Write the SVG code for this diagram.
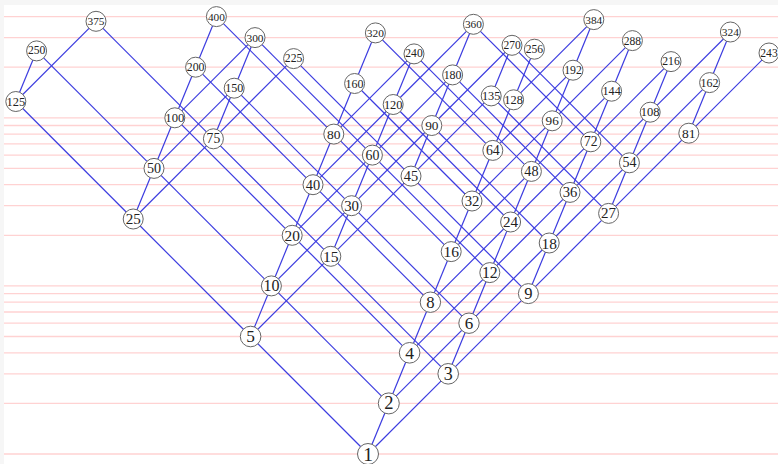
<svg xmlns="http://www.w3.org/2000/svg" width="778" height="464" viewBox="0 0 778 464">
<style>
.grid line{stroke:#ffd2d2;stroke-width:1.3}
.edges line{stroke:#3c3ce0;stroke-width:1.2}
.node circle{fill:#fff;stroke:#666;stroke-width:1}
.node text{font-family:"Liberation Serif","DejaVu Serif",serif;fill:#222;text-anchor:middle;dominant-baseline:central}
</style>
<rect x="0" y="0" width="778" height="464" fill="#f6f6f6"/>
<rect x="4" y="5" width="774" height="459" fill="#fff"/>
<g class="grid">
<line x1="4" y1="454" x2="778" y2="454"/>
<line x1="4" y1="403.4" x2="778" y2="403.4"/>
<line x1="4" y1="373.8" x2="778" y2="373.8"/>
<line x1="4" y1="352.8" x2="778" y2="352.8"/>
<line x1="4" y1="336.5" x2="778" y2="336.5"/>
<line x1="4" y1="323.2" x2="778" y2="323.2"/>
<line x1="4" y1="312" x2="778" y2="312"/>
<line x1="4" y1="302.2" x2="778" y2="302.2"/>
<line x1="4" y1="293.6" x2="778" y2="293.6"/>
<line x1="4" y1="285.9" x2="778" y2="285.9"/>
<line x1="4" y1="235.3" x2="778" y2="235.3"/>
<line x1="4" y1="205.7" x2="778" y2="205.7"/>
<line x1="4" y1="184.7" x2="778" y2="184.7"/>
<line x1="4" y1="168.4" x2="778" y2="168.4"/>
<line x1="4" y1="155.1" x2="778" y2="155.1"/>
<line x1="4" y1="143.9" x2="778" y2="143.9"/>
<line x1="4" y1="134.1" x2="778" y2="134.1"/>
<line x1="4" y1="125.5" x2="778" y2="125.5"/>
<line x1="4" y1="117.8" x2="778" y2="117.8"/>
<line x1="4" y1="67.2" x2="778" y2="67.2"/>
<line x1="4" y1="37.6" x2="778" y2="37.6"/>
<line x1="4" y1="16.6" x2="778" y2="16.6"/>
</g>
<g class="edges">
<line x1="368" y1="454" x2="388.8" y2="403.4"/>
<line x1="368" y1="454" x2="448.2" y2="373.8"/>
<line x1="368" y1="454" x2="250.6" y2="336.5"/>
<line x1="388.8" y1="403.4" x2="409.6" y2="352.8"/>
<line x1="388.8" y1="403.4" x2="469" y2="323.2"/>
<line x1="388.8" y1="403.4" x2="271.4" y2="285.9"/>
<line x1="448.2" y1="373.8" x2="469" y2="323.2"/>
<line x1="448.2" y1="373.8" x2="528.4" y2="293.6"/>
<line x1="448.2" y1="373.8" x2="330.8" y2="256.3"/>
<line x1="409.6" y1="352.8" x2="430.4" y2="302.2"/>
<line x1="409.6" y1="352.8" x2="489.8" y2="272.6"/>
<line x1="409.6" y1="352.8" x2="292.2" y2="235.3"/>
<line x1="250.6" y1="336.5" x2="271.4" y2="285.9"/>
<line x1="250.6" y1="336.5" x2="330.8" y2="256.3"/>
<line x1="250.6" y1="336.5" x2="133.2" y2="219"/>
<line x1="469" y1="323.2" x2="489.8" y2="272.6"/>
<line x1="469" y1="323.2" x2="549.2" y2="243"/>
<line x1="469" y1="323.2" x2="351.6" y2="205.7"/>
<line x1="430.4" y1="302.2" x2="451.2" y2="251.6"/>
<line x1="430.4" y1="302.2" x2="510.6" y2="222"/>
<line x1="430.4" y1="302.2" x2="313" y2="184.7"/>
<line x1="528.4" y1="293.6" x2="549.2" y2="243"/>
<line x1="528.4" y1="293.6" x2="608.6" y2="213.4"/>
<line x1="528.4" y1="293.6" x2="411" y2="176.1"/>
<line x1="271.4" y1="285.9" x2="292.2" y2="235.3"/>
<line x1="271.4" y1="285.9" x2="351.6" y2="205.7"/>
<line x1="271.4" y1="285.9" x2="154" y2="168.4"/>
<line x1="489.8" y1="272.6" x2="510.6" y2="222"/>
<line x1="489.8" y1="272.6" x2="570" y2="192.4"/>
<line x1="489.8" y1="272.6" x2="372.4" y2="155.1"/>
<line x1="330.8" y1="256.3" x2="351.6" y2="205.7"/>
<line x1="330.8" y1="256.3" x2="411" y2="176.1"/>
<line x1="330.8" y1="256.3" x2="213.4" y2="138.8"/>
<line x1="451.2" y1="251.6" x2="472" y2="201"/>
<line x1="451.2" y1="251.6" x2="531.4" y2="171.4"/>
<line x1="451.2" y1="251.6" x2="333.8" y2="134.1"/>
<line x1="549.2" y1="243" x2="570" y2="192.4"/>
<line x1="549.2" y1="243" x2="629.4" y2="162.8"/>
<line x1="549.2" y1="243" x2="431.8" y2="125.5"/>
<line x1="292.2" y1="235.3" x2="313" y2="184.7"/>
<line x1="292.2" y1="235.3" x2="372.4" y2="155.1"/>
<line x1="292.2" y1="235.3" x2="174.8" y2="117.8"/>
<line x1="510.6" y1="222" x2="531.4" y2="171.4"/>
<line x1="510.6" y1="222" x2="590.8" y2="141.8"/>
<line x1="510.6" y1="222" x2="393.2" y2="104.5"/>
<line x1="133.2" y1="219" x2="154" y2="168.4"/>
<line x1="133.2" y1="219" x2="213.4" y2="138.8"/>
<line x1="133.2" y1="219" x2="15.8" y2="101.5"/>
<line x1="608.6" y1="213.4" x2="629.4" y2="162.8"/>
<line x1="608.6" y1="213.4" x2="688.8" y2="133.2"/>
<line x1="608.6" y1="213.4" x2="491.2" y2="95.9"/>
<line x1="351.6" y1="205.7" x2="372.4" y2="155.1"/>
<line x1="351.6" y1="205.7" x2="431.8" y2="125.5"/>
<line x1="351.6" y1="205.7" x2="234.2" y2="88.2"/>
<line x1="472" y1="201" x2="492.8" y2="150.4"/>
<line x1="472" y1="201" x2="552.2" y2="120.8"/>
<line x1="472" y1="201" x2="354.6" y2="83.5"/>
<line x1="570" y1="192.4" x2="590.8" y2="141.8"/>
<line x1="570" y1="192.4" x2="650.2" y2="112.2"/>
<line x1="570" y1="192.4" x2="452.6" y2="74.9"/>
<line x1="313" y1="184.7" x2="333.8" y2="134.1"/>
<line x1="313" y1="184.7" x2="393.2" y2="104.5"/>
<line x1="313" y1="184.7" x2="195.6" y2="67.2"/>
<line x1="411" y1="176.1" x2="431.8" y2="125.5"/>
<line x1="411" y1="176.1" x2="491.2" y2="95.9"/>
<line x1="411" y1="176.1" x2="293.6" y2="58.6"/>
<line x1="531.4" y1="171.4" x2="552.2" y2="120.8"/>
<line x1="531.4" y1="171.4" x2="611.6" y2="91.2"/>
<line x1="531.4" y1="171.4" x2="414" y2="53.9"/>
<line x1="154" y1="168.4" x2="174.8" y2="117.8"/>
<line x1="154" y1="168.4" x2="234.2" y2="88.2"/>
<line x1="154" y1="168.4" x2="36.6" y2="50.9"/>
<line x1="629.4" y1="162.8" x2="650.2" y2="112.2"/>
<line x1="629.4" y1="162.8" x2="709.6" y2="82.6"/>
<line x1="629.4" y1="162.8" x2="512" y2="45.3"/>
<line x1="372.4" y1="155.1" x2="393.2" y2="104.5"/>
<line x1="372.4" y1="155.1" x2="452.6" y2="74.9"/>
<line x1="372.4" y1="155.1" x2="255" y2="37.6"/>
<line x1="492.8" y1="150.4" x2="513.6" y2="99.8"/>
<line x1="492.8" y1="150.4" x2="573" y2="70.2"/>
<line x1="492.8" y1="150.4" x2="375.4" y2="32.9"/>
<line x1="590.8" y1="141.8" x2="611.6" y2="91.2"/>
<line x1="590.8" y1="141.8" x2="671" y2="61.6"/>
<line x1="590.8" y1="141.8" x2="473.4" y2="24.3"/>
<line x1="213.4" y1="138.8" x2="234.2" y2="88.2"/>
<line x1="213.4" y1="138.8" x2="293.6" y2="58.6"/>
<line x1="213.4" y1="138.8" x2="96" y2="21.3"/>
<line x1="333.8" y1="134.1" x2="354.6" y2="83.5"/>
<line x1="333.8" y1="134.1" x2="414" y2="53.9"/>
<line x1="333.8" y1="134.1" x2="216.4" y2="16.6"/>
<line x1="688.8" y1="133.2" x2="709.6" y2="82.6"/>
<line x1="688.8" y1="133.2" x2="769" y2="53"/>
<line x1="431.8" y1="125.5" x2="452.6" y2="74.9"/>
<line x1="431.8" y1="125.5" x2="512" y2="45.3"/>
<line x1="552.2" y1="120.8" x2="573" y2="70.2"/>
<line x1="552.2" y1="120.8" x2="632.4" y2="40.6"/>
<line x1="174.8" y1="117.8" x2="195.6" y2="67.2"/>
<line x1="174.8" y1="117.8" x2="255" y2="37.6"/>
<line x1="650.2" y1="112.2" x2="671" y2="61.6"/>
<line x1="650.2" y1="112.2" x2="730.4" y2="32"/>
<line x1="393.2" y1="104.5" x2="414" y2="53.9"/>
<line x1="393.2" y1="104.5" x2="473.4" y2="24.3"/>
<line x1="15.8" y1="101.5" x2="36.6" y2="50.9"/>
<line x1="15.8" y1="101.5" x2="96" y2="21.3"/>
<line x1="513.6" y1="99.8" x2="534.4" y2="49.2"/>
<line x1="513.6" y1="99.8" x2="593.8" y2="19.6"/>
<line x1="491.2" y1="95.9" x2="512" y2="45.3"/>
<line x1="611.6" y1="91.2" x2="632.4" y2="40.6"/>
<line x1="234.2" y1="88.2" x2="255" y2="37.6"/>
<line x1="354.6" y1="83.5" x2="375.4" y2="32.9"/>
<line x1="709.6" y1="82.6" x2="730.4" y2="32"/>
<line x1="452.6" y1="74.9" x2="473.4" y2="24.3"/>
<line x1="573" y1="70.2" x2="593.8" y2="19.6"/>
<line x1="195.6" y1="67.2" x2="216.4" y2="16.6"/>
</g>
<g id="n1" class="node"><circle cx="368" cy="454" r="10.5"/><text x="368" y="454" font-size="19.5">1</text></g>
<g id="n2" class="node"><circle cx="388.8" cy="403.4" r="10.5"/><text x="388.8" y="403.4" font-size="18.5">2</text></g>
<g id="n3" class="node"><circle cx="448.2" cy="373.8" r="10.3"/><text x="448.2" y="373.8" font-size="18">3</text></g>
<g id="n4" class="node"><circle cx="409.6" cy="352.8" r="10.3"/><text x="409.6" y="352.8" font-size="17.6">4</text></g>
<g id="n5" class="node"><circle cx="250.6" cy="336.5" r="10.3"/><text x="250.6" y="336.5" font-size="17.3">5</text></g>
<g id="n6" class="node"><circle cx="469" cy="323.2" r="10.2"/><text x="469" y="323.2" font-size="17">6</text></g>
<g id="n8" class="node"><circle cx="430.4" cy="302.2" r="10.2"/><text x="430.4" y="302.2" font-size="16.6">8</text></g>
<g id="n9" class="node"><circle cx="528.4" cy="293.6" r="10"/><text x="528.4" y="293.6" font-size="16.5">9</text></g>
<g id="n10" class="node"><circle cx="271.4" cy="285.9" r="10"/><text x="271.4" y="285.9" font-size="16">10</text></g>
<g id="n12" class="node"><circle cx="489.8" cy="272.6" r="10"/><text x="489.8" y="272.6" font-size="15.8">12</text></g>
<g id="n15" class="node"><circle cx="330.8" cy="256.3" r="10"/><text x="330.8" y="256.3" font-size="15.6">15</text></g>
<g id="n16" class="node"><circle cx="451.2" cy="251.6" r="10"/><text x="451.2" y="251.6" font-size="15.5">16</text></g>
<g id="n18" class="node"><circle cx="549.2" cy="243" r="10"/><text x="549.2" y="243" font-size="15.4">18</text></g>
<g id="n20" class="node"><circle cx="292.2" cy="235.3" r="10"/><text x="292.2" y="235.3" font-size="15.3">20</text></g>
<g id="n24" class="node"><circle cx="510.6" cy="222" r="10"/><text x="510.6" y="222" font-size="15.1">24</text></g>
<g id="n25" class="node"><circle cx="133.2" cy="219" r="10"/><text x="133.2" y="219" font-size="15.1">25</text></g>
<g id="n27" class="node"><circle cx="608.6" cy="213.4" r="10"/><text x="608.6" y="213.4" font-size="15">27</text></g>
<g id="n30" class="node"><circle cx="351.6" cy="205.7" r="10"/><text x="351.6" y="205.7" font-size="14.8">30</text></g>
<g id="n32" class="node"><circle cx="472" cy="201" r="10"/><text x="472" y="201" font-size="14.7">32</text></g>
<g id="n36" class="node"><circle cx="570" cy="192.4" r="10"/><text x="570" y="192.4" font-size="14.6">36</text></g>
<g id="n40" class="node"><circle cx="313" cy="184.7" r="10"/><text x="313" y="184.7" font-size="14.4">40</text></g>
<g id="n45" class="node"><circle cx="411" cy="176.1" r="10"/><text x="411" y="176.1" font-size="14.3">45</text></g>
<g id="n48" class="node"><circle cx="531.4" cy="171.4" r="10"/><text x="531.4" y="171.4" font-size="14.2">48</text></g>
<g id="n50" class="node"><circle cx="154" cy="168.4" r="10"/><text x="154" y="168.4" font-size="14.1">50</text></g>
<g id="n54" class="node"><circle cx="629.4" cy="162.8" r="10"/><text x="629.4" y="162.8" font-size="14">54</text></g>
<g id="n60" class="node"><circle cx="372.4" cy="155.1" r="10"/><text x="372.4" y="155.1" font-size="13.9">60</text></g>
<g id="n64" class="node"><circle cx="492.8" cy="150.4" r="10"/><text x="492.8" y="150.4" font-size="13.8">64</text></g>
<g id="n72" class="node"><circle cx="590.8" cy="141.8" r="10"/><text x="590.8" y="141.8" font-size="13.6">72</text></g>
<g id="n75" class="node"><circle cx="213.4" cy="138.8" r="10"/><text x="213.4" y="138.8" font-size="13.6">75</text></g>
<g id="n80" class="node"><circle cx="333.8" cy="134.1" r="10"/><text x="333.8" y="134.1" font-size="13.5">80</text></g>
<g id="n81" class="node"><circle cx="688.8" cy="133.2" r="10"/><text x="688.8" y="133.2" font-size="13.5">81</text></g>
<g id="n90" class="node"><circle cx="431.8" cy="125.5" r="10"/><text x="431.8" y="125.5" font-size="13.3">90</text></g>
<g id="n96" class="node"><circle cx="552.2" cy="120.8" r="10"/><text x="552.2" y="120.8" font-size="13.2">96</text></g>
<g id="n100" class="node"><circle cx="174.8" cy="117.8" r="10"/><text x="174.8" y="117.8" font-size="12.6">100</text></g>
<g id="n108" class="node"><circle cx="650.2" cy="112.2" r="10"/><text x="650.2" y="112.2" font-size="12.5">108</text></g>
<g id="n120" class="node"><circle cx="393.2" cy="104.5" r="10"/><text x="393.2" y="104.5" font-size="12.4">120</text></g>
<g id="n125" class="node"><circle cx="15.8" cy="101.5" r="10"/><text x="15.8" y="101.5" font-size="12.4">125</text></g>
<g id="n128" class="node"><circle cx="513.6" cy="99.8" r="10"/><text x="513.6" y="99.8" font-size="12.3">128</text></g>
<g id="n135" class="node"><circle cx="491.2" cy="95.9" r="10"/><text x="491.2" y="95.9" font-size="12.3">135</text></g>
<g id="n144" class="node"><circle cx="611.6" cy="91.2" r="10"/><text x="611.6" y="91.2" font-size="12.2">144</text></g>
<g id="n150" class="node"><circle cx="234.2" cy="88.2" r="10"/><text x="234.2" y="88.2" font-size="12.1">150</text></g>
<g id="n160" class="node"><circle cx="354.6" cy="83.5" r="10"/><text x="354.6" y="83.5" font-size="12">160</text></g>
<g id="n162" class="node"><circle cx="709.6" cy="82.6" r="10"/><text x="709.6" y="82.6" font-size="12">162</text></g>
<g id="n180" class="node"><circle cx="452.6" cy="74.9" r="10"/><text x="452.6" y="74.9" font-size="11.9">180</text></g>
<g id="n192" class="node"><circle cx="573" cy="70.2" r="10"/><text x="573" y="70.2" font-size="11.8">192</text></g>
<g id="n200" class="node"><circle cx="195.6" cy="67.2" r="10"/><text x="195.6" y="67.2" font-size="11.8">200</text></g>
<g id="n216" class="node"><circle cx="671" cy="61.6" r="10"/><text x="671" y="61.6" font-size="11.7">216</text></g>
<g id="n225" class="node"><circle cx="293.6" cy="58.6" r="10"/><text x="293.6" y="58.6" font-size="11.7">225</text></g>
<g id="n240" class="node"><circle cx="414" cy="53.9" r="10"/><text x="414" y="53.9" font-size="11.6">240</text></g>
<g id="n243" class="node"><circle cx="769" cy="53" r="10"/><text x="769" y="53" font-size="11.6">243</text></g>
<g id="n250" class="node"><circle cx="36.6" cy="50.9" r="10"/><text x="36.6" y="50.9" font-size="11.6">250</text></g>
<g id="n256" class="node"><circle cx="534.4" cy="49.2" r="10"/><text x="534.4" y="49.2" font-size="11.6">256</text></g>
<g id="n270" class="node"><circle cx="512" cy="45.3" r="10"/><text x="512" y="45.3" font-size="11.5">270</text></g>
<g id="n288" class="node"><circle cx="632.4" cy="40.6" r="10"/><text x="632.4" y="40.6" font-size="11.5">288</text></g>
<g id="n300" class="node"><circle cx="255" cy="37.6" r="10"/><text x="255" y="37.6" font-size="11.4">300</text></g>
<g id="n320" class="node"><circle cx="375.4" cy="32.9" r="10"/><text x="375.4" y="32.9" font-size="11.4">320</text></g>
<g id="n324" class="node"><circle cx="730.4" cy="32" r="10"/><text x="730.4" y="32" font-size="11.4">324</text></g>
<g id="n360" class="node"><circle cx="473.4" cy="24.3" r="10"/><text x="473.4" y="24.3" font-size="11.3">360</text></g>
<g id="n375" class="node"><circle cx="96" cy="21.3" r="10"/><text x="96" y="21.3" font-size="11.3">375</text></g>
<g id="n384" class="node"><circle cx="593.8" cy="19.6" r="10"/><text x="593.8" y="19.6" font-size="11.3">384</text></g>
<g id="n400" class="node"><circle cx="216.4" cy="16.6" r="10"/><text x="216.4" y="16.6" font-size="11.3">400</text></g>
</svg>
